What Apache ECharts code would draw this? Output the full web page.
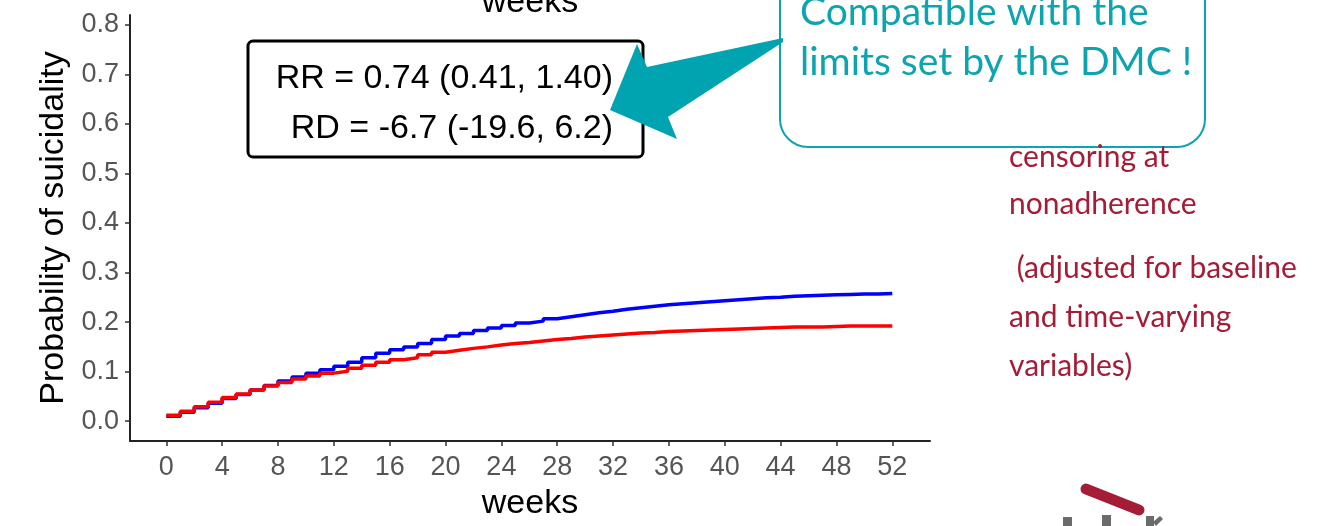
<!DOCTYPE html>
<html>
<head>
<meta charset="utf-8">
<script src="https://cdn.jsdelivr.net/npm/echarts@6/dist/echarts.min.js"></script>
<style>
  html, body { margin: 0; padding: 0; background: #fff; }
  #chart { width: 1319px; height: 526px; }
</style>
</head>
<body>
<div id="chart"></div>
<script>
var weeks = [];
for (var w = 0; w <= 52; w++) weeks.push(w);
var weekTicks = [0, 4, 8, 12, 16, 20, 24, 28, 32, 36, 40, 44, 48, 52];
var probTicks = [0, 0.1, 0.2, 0.3, 0.4, 0.5, 0.6, 0.7, 0.8];

// cumulative probability, one value per week
var blueCurve = [0.010, 0.018, 0.027, 0.036, 0.046, 0.054, 0.063, 0.072, 0.081, 0.089,
    0.097, 0.104, 0.111, 0.119, 0.128, 0.137, 0.144, 0.150, 0.157, 0.165,
    0.172, 0.177, 0.183, 0.188, 0.193, 0.198, 0.202, 0.207, 0.211, 0.215,
    0.219, 0.222, 0.226, 0.229, 0.232, 0.235, 0.237, 0.239, 0.241, 0.243,
    0.245, 0.247, 0.249, 0.250, 0.252, 0.253, 0.254, 0.255, 0.256, 0.257,
    0.257, 0.258, 0.258];
var redCurve = [0.012, 0.020, 0.029, 0.038, 0.048, 0.055, 0.063, 0.071, 0.078, 0.085,
    0.091, 0.097, 0.101, 0.107, 0.113, 0.119, 0.124, 0.128, 0.134, 0.139,
    0.143, 0.147, 0.150, 0.154, 0.157, 0.159, 0.162, 0.165, 0.167, 0.170,
    0.172, 0.174, 0.176, 0.178, 0.179, 0.181, 0.182, 0.183, 0.184, 0.185,
    0.186, 0.187, 0.188, 0.189, 0.190, 0.190, 0.190, 0.191, 0.192, 0.192,
    0.192, 0.192, 0.192];

var statLines = ['RR = 0.74 (0.41, 1.40)', 'RD = -6.7 (-19.6, 6.2)'];
var calloutLines = ['Compatible with the', 'limits set by the DMC !'];
var noteLines = ['censoring at', 'nonadherence', ' (adjusted for baseline', 'and time-varying', 'variables)'];

function pairs(ys) {
    return weeks.map(function (x, i) { return [x, ys[i]]; });
}

var teal = '#0ca4ae';
var maroon = '#a51c36';

var chart = echarts.init(document.getElementById('chart'));
chart.setOption({
    animation: false,
    grid: { left: 130, right: 389, top: 15, bottom: 84 },
    xAxis: {
        type: 'value',
        min: -2.6,
        max: 54.7,
        name: 'weeks',
        nameLocation: 'middle',
        nameGap: 46,
        nameTextStyle: { fontFamily: 'Liberation Sans', fontSize: 34, color: '#000' },
        axisLine: { onZero: false, lineStyle: { color: '#222', width: 2 } },
        axisTick: { length: 5, lineStyle: { color: '#333', width: 1.5 }, customValues: weekTicks },
        axisLabel: {
            customValues: weekTicks,
            margin: 13,
            fontFamily: 'Liberation Sans',
            fontSize: 27,
            color: '#555'
        },
        splitLine: { show: false }
    },
    yAxis: {
        type: 'value',
        min: -0.04,
        max: 0.82,
        name: 'Probability of suicidality',
        nameLocation: 'middle',
        nameGap: 56,
        nameTextStyle: { fontFamily: 'Liberation Sans', fontSize: 34, color: '#000' },
        axisLine: { show: true, onZero: false, lineStyle: { color: '#222', width: 2 } },
        axisTick: { show: true, length: 5, lineStyle: { color: '#333', width: 1.5 }, customValues: probTicks },
        axisLabel: {
            customValues: probTicks,
            margin: 11,
            fontFamily: 'Liberation Sans',
            fontSize: 27,
            color: '#555',
            formatter: function (v) { return v.toFixed(1); }
        },
        splitLine: { show: false }
    },
    series: [
        {
            type: 'line',
            step: 'end',
            showSymbol: false,
            lineStyle: { color: '#0000ff', width: 3.5 },
            data: pairs(blueCurve)
        },
        {
            type: 'line',
            step: 'end',
            showSymbol: false,
            lineStyle: { color: '#ff0000', width: 3.5 },
            data: pairs(redCurve)
        }
    ],
    graphic: [
        // cropped title of the plot above
        { type: 'text', style: {
            text: 'weeks', x: 530, y: 3, align: 'center', verticalAlign: 'middle',
            font: '34px "Liberation Sans"', fill: '#000' } },
        // RR / RD box
        { type: 'rect', shape: { x: 248, y: 41, width: 395, height: 116, r: 5 },
          style: { fill: '#fff', stroke: '#000', lineWidth: 3 } },
        { type: 'text', style: { text: statLines[0], x: 613, y: 79, align: 'right', verticalAlign: 'middle',
            font: '34px "Liberation Sans"', fill: '#000' } },
        { type: 'text', style: { text: statLines[1], x: 613, y: 129, align: 'right', verticalAlign: 'middle',
            font: '34px "Liberation Sans"', fill: '#000' } },
        // callout box
        { type: 'rect', shape: { x: 780, y: -40, width: 425, height: 187, r: 28 },
          style: { fill: '#fff', stroke: teal, lineWidth: 2 } },
        { type: 'text', style: { text: calloutLines[0], x: 800, y: 12, verticalAlign: 'middle',
            font: '39px Lato', fill: teal } },
        { type: 'text', style: { text: calloutLines[1], x: 800, y: 62, verticalAlign: 'middle',
            font: '39px Lato', fill: teal } },
        // callout pointer
        { type: 'polygon', shape: { points: [[783, 38], [647, 67], [637, 44], [610, 110], [677, 139], [668, 117], [783, 42]] },
          style: { fill: '#00a4b0' } },
        // side notes
        { type: 'text', style: { text: noteLines[0], x: 1009, y: 157, verticalAlign: 'middle', font: '30px Lato', fill: maroon } },
        { type: 'text', style: { text: noteLines[1], x: 1009, y: 204, verticalAlign: 'middle', font: '30px Lato', fill: maroon } },
        { type: 'text', style: { text: noteLines[2], x: 1009, y: 268, verticalAlign: 'middle', font: '30px Lato', fill: maroon } },
        { type: 'text', style: { text: noteLines[3], x: 1009, y: 317, verticalAlign: 'middle', font: '30px Lato', fill: maroon } },
        { type: 'text', style: { text: noteLines[4], x: 1009, y: 366, verticalAlign: 'middle', font: '30px Lato', fill: maroon } },
        // partial logo
        { type: 'line', shape: { x1: 1086, y1: 489, x2: 1139, y2: 510 },
          style: { stroke: maroon, lineWidth: 11, lineCap: 'round' } },
        { type: 'rect', shape: { x: 1063, y: 517, width: 9, height: 12 }, style: { fill: '#6b6b6b' } },
        { type: 'rect', shape: { x: 1102, y: 515, width: 9, height: 14 }, style: { fill: '#6b6b6b' } },
        { type: 'rect', shape: { x: 1146, y: 516, width: 8, height: 12 }, style: { fill: '#6b6b6b' } },
        { type: 'polygon', shape: { points: [[1153, 522], [1160, 516], [1163, 519], [1156, 526]] }, style: { fill: '#6b6b6b' } }
    ]
});
</script>
</body>
</html>
